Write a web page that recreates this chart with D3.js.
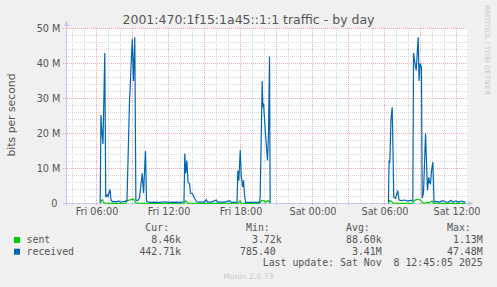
<!DOCTYPE html>
<html>
<head>
<meta charset="utf-8">
<script src="https://cdn.jsdelivr.net/npm/d3@7"></script>
<style>
  body { margin: 0; background: #f0f0f0; }
  svg { display: block; }
  text { white-space: pre; }
</style>
</head>
<body>
<script>
// hours since Fri 00:00, values in Mbit/s
let recvHours = [6.31, 6.37, 6.46, 6.54, 6.69, 6.77, 6.88, 6.96, 7.13, 7.21, 7.33, 7.5, 7.67, 7.83, 8.0, 8.17, 8.33, 8.54,
  8.75, 8.98, 9.08, 9.19, 9.28, 9.42, 9.58, 9.81, 9.92, 10.08, 10.17, 10.42, 10.83, 11.25, 11.67, 12.08, 12.5, 12.92,
  13.29, 13.36, 13.44, 13.53, 13.63, 13.75, 13.83, 14.0, 14.17, 14.33, 14.58, 15.0, 15.14, 15.25, 15.58, 15.98, 16.08,
  16.67, 17.08, 17.25, 17.71, 17.78, 17.86, 17.98, 18.06, 18.17, 18.25, 18.33, 18.42, 18.92, 19.58, 19.64, 19.81, 19.86,
  19.92, 20.08, 20.25, 20.33, 20.42, 20.47, 20.5,
  30.33, 30.38, 30.44, 30.54, 30.64, 30.71, 30.77, 30.92, 31.11, 31.21, 31.42, 31.67, 31.92, 32.17, 32.36, 32.42, 32.54,
  32.64, 32.81, 32.88, 32.96, 33.08, 33.14, 33.25, 33.42, 33.5, 33.58, 33.69, 33.75, 33.83, 33.92, 34.03, 34.13, 34.33,
  34.58, 34.83, 35.08, 35.33, 35.54, 35.67, 35.92, 36.17, 36.42, 36.75];
let recvValues = [0.2, 25.3, 20, 17, 43, 1.8, 2.5, 2.0, 4.0, 1.0, 0.5, 0.6, 0.4, 0.7, 0.4, 0.5, 0.6, 0.8,
  29, 47, 35, 47.5, 1.0, 0.8, 1.5, 8.6, 3, 15, 0.6, 0.3, 0.4, 0.3, 0.5, 0.3, 0.4, 0.3,
  0.5, 14.3, 8.6, 12.3, 6, 5.7, 3, 2.8, 1.5, 0.5, 0.4, 0.4, 1.1, 0.4, 0.4, 1.0, 0.4,
  0.4, 0.8, 0.3, 0.4, 9.4, 6.5, 15.3, 8, 4.7, 6.6, 2.8, 0.3, 0.3, 0.3, 2, 35, 27.5,
  28.6, 20, 12.3, 20, 42, 0.3, null,
  0.3, 12.3, 11.5, 24, 27.5, 15, 1.8, 1.5, 3.7, 1.0, 0.8, 1.0, 0.7, 0.9, 0.8, 43, 40,
  38, 47.5, 35, 40, 39, 1.5, 3, 20, 12, 3.7, 7.5, 6, 5.7, 9.4, 11.8, 0.5, 0.6,
  0.4, 0.8, 0.5, 0.4, 0.9, 0.4, 0.7, 0.4, 0.7, 0.4];

let sentHours = [6.31, 6.4, 6.5, 6.6, 6.75, 7.5, 8.4, 8.6, 8.85, 9.1, 9.25, 9.4, 11.0, 13.3, 13.45, 13.6, 15.5,
  17.8, 17.95, 18.1, 19.0, 19.6, 19.75, 19.95, 20.1, 20.3, 20.45, 20.47, 20.5,
  30.33, 30.45, 30.6, 30.75, 31.5, 32.35, 32.5, 32.75, 33.0, 33.15, 33.3, 33.8, 33.95, 34.1, 35.0, 36.75];
let sentValues = [0, 0.8, 1.1, 0.3, 0.1, 0.05, 0.1, 0.8, 1.1, 1.3, 0.3, 0.1, 0.05, 0.1, 0.8, 0.1, 0.05,
  0.1, 0.8, 0.1, 0.05, 0.1, 0.9, 0.8, 0.3, 0.9, 0.2, 0.05, null,
  0, 0.9, 0.5, 0.1, 0.05, 0.1, 0.9, 1.2, 1.0, 0.3, 0.1, 0.3, 0.7, 0.1, 0.05, 0.05];

let yTicks = [0, 10, 20, 30, 40, 50];
let yTickLabels = ['0 ', '10 M', '20 M', '30 M', '40 M', '50 M'];
let xTicks = [6, 12, 18, 24, 30, 36];
let xTickLabels = ['Fri 06:00', 'Fri 12:00', 'Fri 18:00', 'Sat 00:00', 'Sat 06:00', 'Sat 12:00'];

let seriesNames = ['sent', 'received'];
let seriesColors = ['#00cc00', '#0066b3'];
let curVals = ['8.46k', '442.71k'];
let minVals = ['3.72k', '785.40 '];
let avgVals = ['88.60k', '3.41M'];
let maxVals = ['1.13M', '47.48M'];

let svg = d3.select('body')
  .append('svg')
  .attr('width', 497)
  .attr('height', 287);

svg.append('rect').attr('width', 497).attr('height', 287).attr('fill', '#f0f0f0');

let x = d3.scaleLinear().domain([3.5, 36.8333]).range([66.5, 466.5]);
let y = d3.scaleLinear().domain([0, 50]).range([203.5, 28.5]);

svg.append('rect')
  .attr('x', 66).attr('y', 28)
  .attr('width', 401).attr('height', 176)
  .attr('fill', '#ffffff');

// minor grid
let minorY = d3.range(2, 50, 2).filter(v => v % 10 != 0);
let minorX = d3.range(4, 37).filter(h => h % 3 != 0);
let grid = svg.append('g');
grid.selectAll('.my').data(minorY).enter().append('line')
  .attr('x1', 64).attr('x2', 467)
  .attr('y1', d => y(d)).attr('y2', d => y(d))
  .attr('stroke', '#d6d6d6').attr('stroke-dasharray', '1,1');
grid.selectAll('.mx').data(minorX).enter().append('line')
  .attr('x1', d => x(d)).attr('x2', d => x(d))
  .attr('y1', 28).attr('y2', 205)
  .attr('stroke', '#d6d6d6').attr('stroke-dasharray', '1,1');

// major grid
let majorX = d3.range(6, 37, 3);
grid.selectAll('.My').data(yTicks.slice(1)).enter().append('line')
  .attr('x1', 63).attr('x2', 467)
  .attr('y1', d => y(d)).attr('y2', d => y(d))
  .attr('stroke', '#efa8a8').attr('stroke-dasharray', '1,1');
grid.selectAll('.Mx').data(majorX).enter().append('line')
  .attr('x1', d => x(d)).attr('x2', d => x(d))
  .attr('y1', 28).attr('y2', 206)
  .attr('stroke', '#efa8a8').attr('stroke-dasharray', '1,1');

// axes lines + arrows
let axisColor = '#c4c8f4';
svg.append('line').attr('x1', 63).attr('x2', 469).attr('y1', y(0)).attr('y2', y(0))
  .attr('stroke', axisColor);
svg.append('line').attr('x1', x(3.5)).attr('x2', x(3.5)).attr('y1', 206).attr('y2', 24)
  .attr('stroke', axisColor);
svg.append('path').attr('d', 'M64,26 L66.5,20.5 L69,26 Z').attr('fill', axisColor);
svg.append('path').attr('d', 'M468,201 L473.5,203.5 L468,206 Z').attr('fill', axisColor);

// series
function drawSeries(hours, values, color) {
  let pts = hours.map((h, i) => [h, values[i]]);
  let line = d3.line()
    .defined(d => d[1] != null)
    .x(d => x(d[0]))
    .y(d => y(d[1]));
  svg.append('path')
    .datum(pts)
    .attr('d', line)
    .attr('fill', 'none')
    .attr('stroke', color)
    .attr('stroke-width', 1.2);
}
drawSeries(sentHours, sentValues, seriesColors[0]);
drawSeries(recvHours, recvValues, seriesColors[1]);

// axis labels
let yAxis = d3.axisLeft(y).tickValues(yTicks)
  .tickFormat((d, i) => yTickLabels[i]).tickSize(0).tickPadding(0);
let gy = svg.append('g').attr('transform', 'translate(60.5,0)').call(yAxis);
gy.select('.domain').remove();
gy.selectAll('text')
  .attr('font-family', 'DejaVu Sans').attr('font-size', 9.72).attr('fill', '#555')
  .attr('dy', '0.34em');

let xAxis = d3.axisBottom(x).tickValues(xTicks)
  .tickFormat((d, i) => xTickLabels[i]).tickSize(0).tickPadding(0);
let gx = svg.append('g').attr('transform', 'translate(0,208)').call(xAxis);
gx.select('.domain').remove();
gx.selectAll('text')
  .attr('font-family', 'DejaVu Sans').attr('font-size', 9.72).attr('fill', '#555')
  .attr('dy', '0.75em');

// title and side texts
svg.append('text')
  .attr('x', 248.5).attr('y', 24)
  .attr('text-anchor', 'middle')
  .attr('font-family', 'DejaVu Sans').attr('font-size', 12.5).attr('fill', '#555')
  .text('2001:470:1f15:1a45::1:1 traffic - by day');

svg.append('text')
  .attr('transform', 'translate(15,115) rotate(-90)')
  .attr('text-anchor', 'middle')
  .attr('font-family', 'DejaVu Sans').attr('font-size', 10.8).attr('fill', '#555')
  .text('bits per second');

svg.append('text')
  .attr('transform', 'translate(485,5) rotate(90)')
  .attr('font-family', 'DejaVu Sans').attr('font-size', 7).attr('fill', '#c8c8c8')
  .text('RRDTOOL / TOBI OETIKER');

// legend
let mono = 'DejaVu Sans Mono';
let legendFont = 9.9;
let cols = [181, 281.7, 381.7, 482.7];
let headers = ['Cur:  ', 'Min:  ', 'Avg:  ', 'Max:  '];
let rowY = [243, 254.7];

svg.selectAll('.hdr').data(headers).enter().append('text')
  .attr('x', (d, i) => cols[i]).attr('y', 230.7)
  .attr('text-anchor', 'end')
  .attr('font-family', mono).attr('font-size', legendFont).attr('fill', '#555')
  .text(d => d);

seriesNames.forEach((name, r) => {
  svg.append('rect')
    .attr('x', 14).attr('y', rowY[r] - 6)
    .attr('width', 6).attr('height', 6)
    .attr('fill', seriesColors[r]);
  svg.append('text')
    .attr('x', 26.5).attr('y', rowY[r])
    .attr('font-family', mono).attr('font-size', legendFont).attr('fill', '#555')
    .text(name);
  [curVals, minVals, avgVals, maxVals].forEach((vals, c) => {
    svg.append('text')
      .attr('x', cols[c]).attr('y', rowY[r])
      .attr('text-anchor', 'end')
      .attr('font-family', mono).attr('font-size', legendFont).attr('fill', '#555')
      .text(vals[r]);
  });
});

svg.append('text')
  .attr('x', 482.7).attr('y', 266.3)
  .attr('text-anchor', 'end')
  .attr('font-family', mono).attr('font-size', legendFont).attr('fill', '#555')
  .text('Last update: Sat Nov  8 12:45:05 2025');

svg.append('text')
  .attr('x', 248.3).attr('y', 279)
  .attr('text-anchor', 'middle')
  .attr('font-family', 'DejaVu Sans').attr('font-size', 7.7).attr('fill', '#c8c8c8')
  .text('Munin 2.0.73');
</script>
</body>
</html>
